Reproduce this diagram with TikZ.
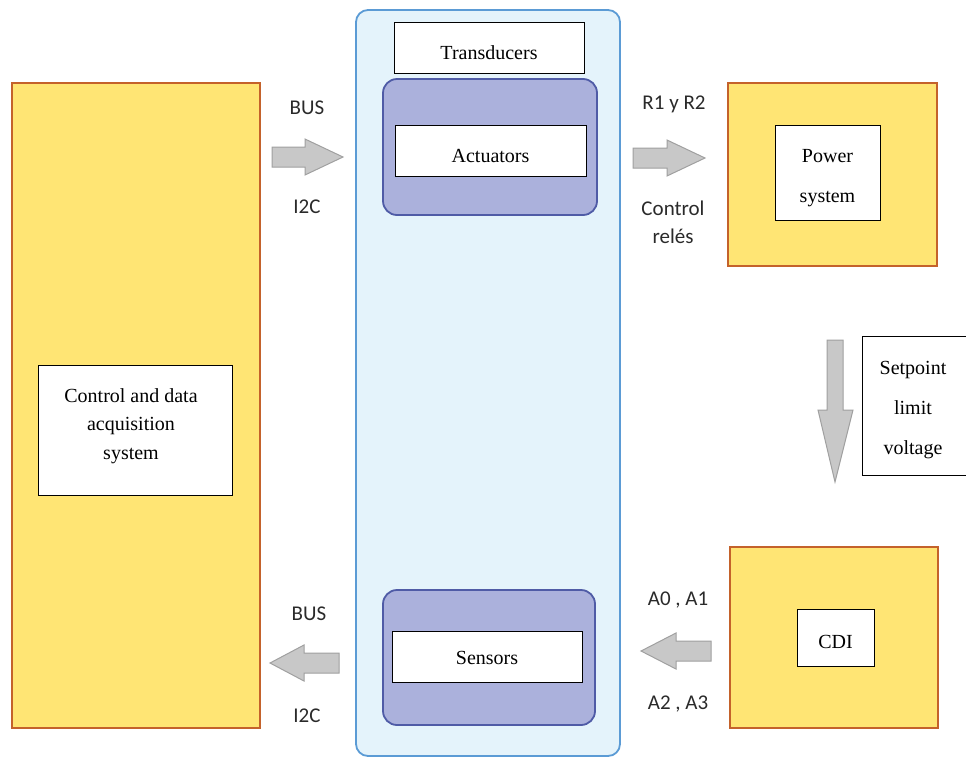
\documentclass[tikz,border=0pt]{standalone}
\usepackage{fontspec}
\setmainfont{Liberation Serif}
\newfontfamily\labfont{Carlito}
\definecolor{yfill}{HTML}{FFE574}
\definecolor{ydraw}{HTML}{C4622B}
\definecolor{bfill}{HTML}{E4F3FB}
\definecolor{bdraw}{HTML}{5B9BD5}
\definecolor{pfill}{HTML}{ABB1DC}
\definecolor{pdraw}{HTML}{4F5BA6}
\definecolor{afill}{HTML}{C8C8C8}
\definecolor{adraw}{HTML}{A0A0A0}
\definecolor{ltext}{HTML}{2A2A2A}
\begin{document}
\begin{tikzpicture}[x=1pt,y=-1pt,
  ybox/.style={draw=ydraw,fill=yfill,line width=2.8pt,inner sep=0pt},
  wbox/.style={draw=black,fill=white,line width=0.8pt,inner sep=0pt},
  wtext/.style={inner sep=0pt,align=center,font=\fontsize{20}{28.5}\selectfont},
  pbox/.style={draw=pdraw,fill=pfill,line width=1.8pt,rounded corners=14pt,inner sep=0pt},
  blk/.style={draw=adraw,fill=afill,line width=1pt,line join=miter},
  lab/.style={font=\labfont\fontsize{21}{24}\selectfont,text=ltext,inner sep=0pt}]
\useasboundingbox (0,0) rectangle (966,758);
% left block
\node[ybox,minimum width=248,minimum height=645] (ctrl) at (136,405.5) {};
\node[wbox,minimum width=194,minimum height=130] (ctrlb) at (135,430) {};
\node[wtext] (ctrlt) at ([xshift=-4pt,yshift=4pt]ctrlb.center) {Control and data\\acquisition\\system};
% center transducer panel
\node[draw=bdraw,fill=bfill,line width=1.8pt,rounded corners=12pt,minimum width=264,minimum height=746,inner sep=0pt] (panel) at (488,383) {};
\node[wbox,minimum width=190,minimum height=51] (transb) at (489,47.5) {};
\node[wtext] (trans) at ([yshift=-5pt]transb.center) {Transducers};
\node[pbox,minimum width=214,minimum height=136] (act) at (490,147) {};
\node[wbox,minimum width=191,minimum height=51] (actb) at (490.5,150.5) {};
\node[wtext] (actt) at ([yshift=-5pt]actb.center) {Actuators};
\node[pbox,minimum width=212,minimum height=135] (sen) at (489,657.5) {};
\node[wbox,minimum width=190,minimum height=51] (senb) at (487,656.5) {};
\node[wtext] (sent) at ([yshift=-1pt]senb.center) {Sensors};
% power system
\node[ybox,minimum width=209,minimum height=183] (pow) at (832.5,174.5) {};
\node[wbox,minimum width=105,minimum height=95] (powb) at (827.5,172.5) {};
\node[wtext,font=\fontsize{20}{40}\selectfont] (powt) at ([yshift=-6pt]powb.center) {Power\\system};
% setpoint
\node[wbox,minimum width=106,minimum height=139] (setb) at (915,405.5) {};
\node[wtext,font=\fontsize{20}{40}\selectfont] (setp) at ([xshift=-2pt,yshift=-5pt]setb.center) {Setpoint\\limit\\voltage};
% CDI
\node[ybox,minimum width=208,minimum height=181] (cdi) at (834,637.5) {};
\node[wbox,minimum width=77,minimum height=57] (cdib) at (835.5,637.5) {};
\node[wtext] (cdit) at ([yshift=-4pt]cdib.center) {CDI};
% block arrows
\draw[blk] (272,147) -- (305,147) -- (305,139) -- (343,157) -- (305,175) -- (305,167) -- (272,167) -- cycle;
\draw[blk] (633,148) -- (667,148) -- (667,140) -- (705,158) -- (667,176) -- (667,168) -- (633,168) -- cycle;
\draw[blk] (339,653) -- (304,653) -- (304,645) -- (270,663) -- (304,681) -- (304,673) -- (339,673) -- cycle;
\draw[blk] (711,641) -- (676,641) -- (676,633) -- (641,651) -- (676,669) -- (676,661) -- (711,661) -- cycle;
\draw[blk] (827,340) -- (843,340) -- (843,410) -- (853,410) -- (835,482) -- (818,410) -- (827,410) -- cycle;
% labels
\node[lab] (bus1) at (307,108) {BUS};
\node[lab] (i2c1) at (307,207) {I2C};
\node[lab] (r12) at (674,104) {R1 y R2};
\node[lab,align=center,font=\labfont\fontsize{21}{28}\selectfont] (crel) at (673,222) {Control\\relés};
\node[lab] (a01) at (678,600) {A0 , A1};
\node[lab] (a23) at (678,704) {A2 , A3};
\node[lab] (bus2) at (309,614) {BUS};
\node[lab] (i2c2) at (307,716) {I2C};
\end{tikzpicture}
\end{document}
